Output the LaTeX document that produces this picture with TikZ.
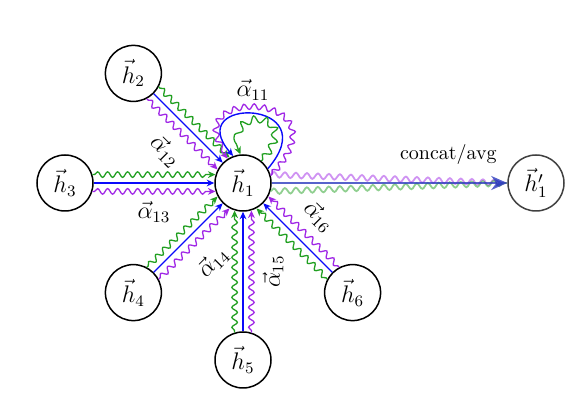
\documentclass[tikz,border=0pt]{standalone}
\usetikzlibrary{calc,decorations.pathmorphing,arrows.meta}
\definecolor{gatgreen}{RGB}{34,160,34}
\definecolor{gatpurple}{RGB}{160,40,230}
\definecolor{gatblue}{RGB}{10,10,250}
\definecolor{outblue}{RGB}{45,60,190}
\begin{document}
\begin{tikzpicture}[x=0.5pt,y=0.5pt,
  hnode/.style={circle,draw,line width=0.75pt,minimum size=28pt,inner sep=0pt,fill=white,font=\large},
  tip/.style={-{Stealth[length=3.8pt,width=3.4pt]}},
  wavy/.style={tip,line width=0.65pt,decorate,decoration={snake,amplitude=1.4pt,segment length=5pt,pre length=1pt,post length=3pt}},
  gw/.style={wavy,gatgreen},
  pw/.style={wavy,gatpurple},
  bl/.style={tip,line width=0.7pt,gatblue},
  lab/.style={inner sep=1pt,font=\large}]
\useasboundingbox (0,0) rectangle (574,402);
\node[hnode] (h1) at (243,219) {$\vec{h}_1$};
\node[hnode] (h2) at ($(h1)+(135:155)$) {$\vec{h}_2$};
\node[hnode] (h3) at (65,219) {$\vec{h}_3$};
\node[hnode] (h4) at ($(h1)+(225:155)$) {$\vec{h}_4$};
\node[hnode] (h5) at (243,42) {$\vec{h}_5$};
\node[hnode] (h6) at ($(h1)+(315:155)$) {$\vec{h}_6$};
\node[hnode,draw=black!75] (h1p) at (536,219) {$\vec{h}'_1$};
% h2
\draw[gw] (h2.-28) -- (h1.118);
\draw[bl] (h2) -- (h1);
\draw[pw] (h2.-62) -- (h1.152);
% h3
\draw[gw] (h3.17) -- (h1.163);
\draw[bl] (h3) -- (h1);
\draw[pw] (h3.-17) -- (h1.-163);
% h4
\draw[gw] (h4.62) -- (h1.-152);
\draw[bl] (h4) -- (h1);
\draw[pw] (h4.28) -- (h1.-118);
% h5
\draw[gw] (h5.107) -- (h1.-107);
\draw[bl] (h5) -- (h1);
\draw[pw] (h5.73) -- (h1.-73);
% h6
\draw[gw] (h6.152) -- (h1.-62);
\draw[bl] (h6) -- (h1);
\draw[pw] (h6.118) -- (h1.-28);
% self loops
\draw[pw] (h1.15) .. controls +(80,86) and +(-64,70) .. (h1.122);
\draw[bl] (h1.30) .. controls +(60,70) and +(-52,60) .. (h1.110);
\draw[gw,decoration={amplitude=1.8pt,segment length=6pt}] (h1.50) .. controls +(42,50) and +(-24,46) .. (h1.95);
\node[lab] (a11) at (253,312) {$\vec{\alpha}_{11}$};
% labels
\path (h2) -- (h1) coordinate[midway] (m2);
\path (h3) -- (h1) coordinate[midway] (m3);
\path (h4) -- (h1) coordinate[midway] (m4);
\path (h5) -- (h1) coordinate[midway] (m5);
\path (h6) -- (h1) coordinate[midway] (m6);
\node[lab,rotate=-45] (a12) at ($(m2)!16pt!-90:(h1)$) {$\vec{\alpha}_{12}$};
\node[lab] (a13) at ($(m3)!14.5pt!-90:(h1)$) {$\vec{\alpha}_{13}$};
\node[lab,rotate=45] (a14) at ($(m4)!17.5pt!-90:(h1)$) {$\vec{\alpha}_{14}$};
\node[lab,rotate=90] (a15) at ($(m5)!15pt!-90:(h1)$) {$\vec{\alpha}_{15}$};
\node[lab,rotate=-45] (a16) at ($(m6)!15pt!-90:(h1)$) {$\vec{\alpha}_{16}$};
% output
\draw[gatpurple,opacity=.5,line width=.9pt,decorate,decoration={snake,amplitude=1.4pt,segment length=5.5pt}] (h1.17) -- (h1p.west);
\draw[gatgreen,opacity=.5,line width=.9pt,decorate,decoration={snake,amplitude=1.4pt,segment length=5.5pt}] (h1.-17) -- (h1p.west);
\draw[outblue,opacity=.8,line width=1.4pt,-{Stealth[length=8pt,width=7pt]}] (h1) -- (h1p) node[pos=.75,above=5pt,text=black,opacity=1] (cat) {concat/avg};
\end{tikzpicture}
\end{document}
